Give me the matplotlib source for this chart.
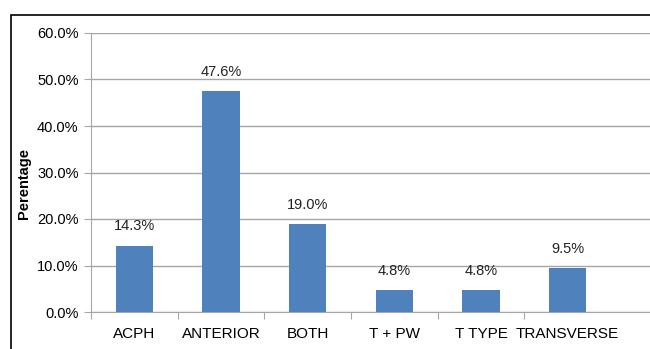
import numpy as np
import matplotlib.pyplot as plt
from matplotlib.patches import Rectangle
from matplotlib.ticker import FuncFormatter

plt.rcParams['font.family'] = ['Liberation Sans', 'DejaVu Sans']

categories = ['ACPH', 'ANTERIOR', 'BOTH', 'T + PW', 'T TYPE', 'TRANSVERSE']
values = [14.3, 47.6, 19.0, 4.8, 4.8, 9.5]

fig = plt.figure(figsize=(6.5, 3.49), dpi=100)
ax = fig.add_axes([91/650, 1 - 312/349, 1 - 91/650, (312 - 33)/349])

x = np.arange(len(categories))
ax.bar(x, values, width=0.43, color='#4f81bd', zorder=3)
for xi, v in zip(x, values):
    ax.text(xi, v + 2.6, '%.1f%%' % v, ha='center', va='bottom', fontsize=10.5, color='#222222')

ax.set_xlim(-0.5, 5.95)
ax.set_ylim(0, 60)
ax.set_yticks(np.arange(0, 61, 10))
ax.yaxis.set_major_formatter(FuncFormatter(lambda v, p: '%.1f%%' % v))
ax.grid(axis='y', color='#a6a6a6', linewidth=1, zorder=0)

# category ticks between bars, labels centred under bars
ax.set_xticks(np.arange(-0.5, 5, 1.0))
ax.set_xticklabels([])
ax.set_xticks(x, minor=True)
ax.set_xticklabels(categories, minor=True, fontsize=11)
ax.tick_params(axis='x', which='minor', length=0, pad=11)
ax.tick_params(axis='x', which='major', length=5, color='#a6a6a6')
ax.tick_params(axis='y', length=5, color='#a6a6a6', labelsize=10.5, pad=4)

for s in ['top', 'right']:
    ax.spines[s].set_visible(False)
ax.spines['left'].set_color('#a6a6a6')
ax.spines['bottom'].set_color('#a6a6a6')

ax.set_ylabel('Perentage', fontsize=10.5, fontweight='bold')
ax.yaxis.set_label_coords(-0.108, 0.46)

# chart border, cut off by the image edge
fig.patches.append(Rectangle((11/650, -0.1), 2, 1 - 15/349 + 0.1, transform=fig.transFigure,
                             fill=False, edgecolor='black', linewidth=1.2, clip_on=False))

fig.savefig('out.png', dpi=100)
